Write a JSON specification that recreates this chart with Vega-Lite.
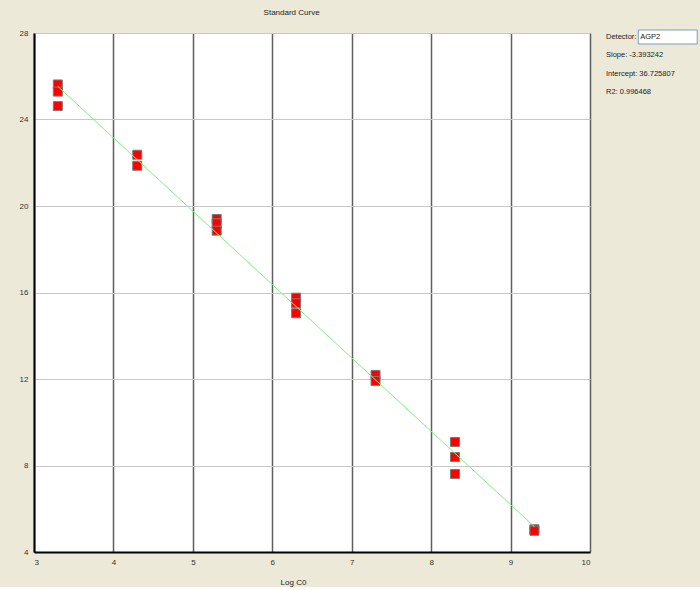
{
  "$schema": "https://vega.github.io/schema/vega-lite/v6.json",
  "background": "#ECE9D8",
  "padding": {"left": 18, "top": 8, "right": 0, "bottom": 0},
  "title": {"text": "Standard Curve", "anchor": "start", "dx": 245, "fontSize": 8, "font": "Liberation Sans", "fontWeight": "normal", "color": "#222222", "offset": 12},
  "config": {"font": "Liberation Sans", "view": {"stroke": null}},
  "spacing": 15,
  "hconcat": [
    {
      "width": 556,
      "height": 519,
      "view": {"fill": "white", "stroke": "#a0a0a0"},
      "layer": [
        {
          "data": {"values": [
            {"logc0": 3.3, "ct": 25.62}, {"logc0": 3.3, "ct": 25.29}, {"logc0": 3.3, "ct": 24.62},
            {"logc0": 4.3, "ct": 22.37}, {"logc0": 4.3, "ct": 21.86},
            {"logc0": 5.3, "ct": 19.4}, {"logc0": 5.3, "ct": 19.2}, {"logc0": 5.3, "ct": 18.86},
            {"logc0": 6.3, "ct": 15.76}, {"logc0": 6.3, "ct": 15.5}, {"logc0": 6.3, "ct": 15.04},
            {"logc0": 7.3, "ct": 12.19}, {"logc0": 7.3, "ct": 11.91},
            {"logc0": 8.3, "ct": 9.09}, {"logc0": 8.3, "ct": 8.39}, {"logc0": 8.3, "ct": 7.61},
            {"logc0": 9.3, "ct": 5.05}, {"logc0": 9.3, "ct": 4.98}
          ]},
          "mark": {"type": "point", "shape": "square", "filled": true, "size": 81, "fill": "#FF0000", "stroke": "#7a7a7a", "strokeWidth": 1, "opacity": 1},
          "encoding": {
            "x": {"field": "logc0", "type": "quantitative",
              "scale": {"domain": [3, 10], "nice": false, "zero": false},
              "axis": {"values": [3, 4, 5, 6, 7, 8, 9, 10], "format": "d", "grid": true, "gridColor": "#5e5e5e", "gridWidth": 1.5, "ticks": false,
                "domainColor": "#000000", "domainWidth": 2, "labelFontSize": 8, "labelColor": "#333333", "labelPadding": 6,
                "title": "Log C0", "titleFontSize": 8, "titleFontWeight": "normal", "titleColor": "#222222", "titlePadding": 12, "titleX": 259}},
            "y": {"field": "ct", "type": "quantitative",
              "scale": {"domain": [4, 28], "nice": false, "zero": false},
              "axis": {"values": [4, 8, 12, 16, 20, 24, 28], "format": "d", "grid": true, "gridColor": "#c8c8c8", "gridWidth": 1, "ticks": false,
                "domainColor": "#000000", "domainWidth": 2, "labelFontSize": 8, "labelColor": "#333333", "labelPadding": 6, "title": null}}
          }
        },
        {
          "data": {"values": [{"logc0": 3.3, "ct": 25.53}, {"logc0": 9.3, "ct": 5.17}]},
          "mark": {"type": "line", "color": "#80F080", "strokeWidth": 1},
          "encoding": {
            "x": {"field": "logc0", "type": "quantitative"},
            "y": {"field": "ct", "type": "quantitative"}
          }
        }
      ]
    },
    {
      "width": 95,
      "height": 55,
      "view": {"stroke": null},
      "data": {"values": [
        {"row": 1, "label": "Detector:"},
        {"row": 2, "label": "Slope:  -3.393242"},
        {"row": 3, "label": "Intercept:  36.725807"},
        {"row": 4, "label": "R2:  0.996468"}
      ]},
      "layer": [
        {
          "transform": [{"filter": "datum.row == 1"}],
          "mark": {"type": "rect", "fill": "white", "stroke": "#7f9db9", "strokeWidth": 1, "height": 14},
          "encoding": {
            "y": {"field": "row", "type": "ordinal", "scale": {"type": "point", "padding": 0}, "axis": null},
            "yOffset": {"value": 4},
            "x": {"datum": 34, "type": "quantitative", "scale": {"domain": [0, 95]}, "axis": null},
            "x2": {"datum": 96}
          }
        },
        {
          "mark": {"type": "text", "align": "left", "baseline": "middle", "fontSize": 7.5, "color": "#222222", "dy": 4},
          "encoding": {
            "y": {"field": "row", "type": "ordinal", "axis": null},
            "x": {"datum": 0, "type": "quantitative"},
            "text": {"field": "label"}
          }
        },
        {
          "data": {"values": [{"row": 1, "label": "AGP2"}]},
          "mark": {"type": "text", "align": "left", "baseline": "middle", "fontSize": 7.5, "color": "#222222", "dy": 4},
          "encoding": {
            "y": {"field": "row", "type": "ordinal", "axis": null},
            "x": {"datum": 36, "type": "quantitative"},
            "text": {"field": "label"}
          }
        }
      ]
    }
  ]
}
